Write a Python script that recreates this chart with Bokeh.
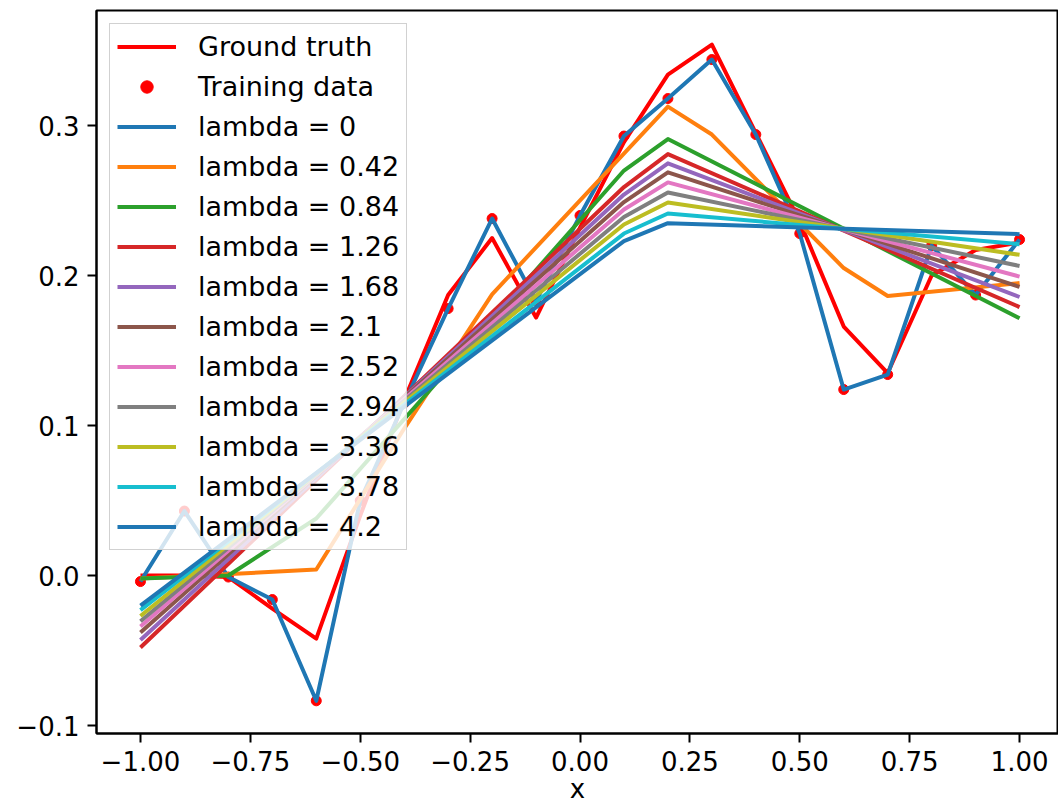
from bokeh.plotting import figure
from bokeh.models import Range1d, Legend, LegendItem, FixedTicker
from bokeh.embed import file_html
from bokeh.resources import INLINE

# sample positions shared by the ground truth and the training set
x_grid = [-1.0, -0.9, -0.8, -0.7, -0.6, -0.5, -0.4, -0.3, -0.2, -0.1, 0.0,
          0.1, 0.2, 0.3, 0.4, 0.5, 0.6, 0.7, 0.8, 0.9, 1.0]

ground_truth = [0.0, 0.0, -0.001, -0.022, -0.042, 0.040, 0.117, 0.187, 0.225, 0.172, 0.232,
                0.289, 0.334, 0.354, 0.295, 0.236, 0.166, 0.135, 0.200, 0.217, 0.222]

training = [-0.004, 0.043, -0.001, -0.016, -0.0835, 0.050, 0.115, 0.178, 0.238, 0.183, 0.240,
            0.293, 0.318, 0.344, 0.294, 0.228, 0.124, 0.134, 0.220, 0.187, 0.224]

# regularised fits: vertices of each fitted polyline
fit_0_42_x = [-1.0, -0.6, -0.4, -0.2, 0.2, 0.3, 0.6, 0.7, 1.0]
fit_0_42_y = [-0.002, 0.004, 0.098, 0.1875, 0.3126, 0.294, 0.205, 0.1864, 0.195]

fit_0_84_x = [-1.0, -0.8, -0.6, 0.1, 0.2, 1.0]
fit_0_84_y = [-0.002, 0.0, 0.038, 0.270, 0.291, 0.1715]

fit_knots_x = [-1.0, 0.1, 0.2, 1.0]
fit_1_26_y = [-0.048, 0.259, 0.281, 0.179]
fit_1_68_y = [-0.043, 0.254, 0.2748, 0.1857]
fit_2_1_y = [-0.038, 0.249, 0.2688, 0.1924]
fit_2_52_y = [-0.034, 0.244, 0.2621, 0.1993]
fit_2_94_y = [-0.0305, 0.239, 0.2554, 0.2064]
fit_3_36_y = [-0.027, 0.234, 0.2487, 0.2138]
fit_3_78_y = [-0.023, 0.228, 0.2414, 0.2209]
fit_4_2_y = [-0.020, 0.223, 0.2349, 0.2276]

lambda_labels = ["0", "0.42", "0.84", "1.26", "1.68", "2.1", "2.52", "2.94", "3.36", "3.78", "4.2"]
fits = [
    (x_grid, training),
    (fit_0_42_x, fit_0_42_y),
    (fit_0_84_x, fit_0_84_y),
    (fit_knots_x, fit_1_26_y),
    (fit_knots_x, fit_1_68_y),
    (fit_knots_x, fit_2_1_y),
    (fit_knots_x, fit_2_52_y),
    (fit_knots_x, fit_2_94_y),
    (fit_knots_x, fit_3_36_y),
    (fit_knots_x, fit_3_78_y),
    (fit_knots_x, fit_4_2_y),
]
palette = ["#1f77b4", "#ff7f0e", "#2ca02c", "#d62728", "#9467bd", "#8c564b",
           "#e377c2", "#7f7f7f", "#bcbd22", "#17becf", "#1f77b4"]

x_ticks = [-1.0, -0.75, -0.5, -0.25, 0.0, 0.25, 0.5, 0.75, 1.0]
x_tick_labels = ["\u22121.00", "\u22120.75", "\u22120.50", "\u22120.25", "0.00", "0.25", "0.50", "0.75", "1.00"]
y_ticks = [-0.1, 0.0, 0.1, 0.2, 0.3]
y_tick_labels = ["\u22120.1", "0.0", "0.1", "0.2", "0.3"]

FONT = "DejaVu Sans"
FS = "26px"
LW = 4
Y_LO, Y_HI = -0.1053, 0.3767

p = figure(width=1058, height=811, output_backend="svg", toolbar_location=None,
           x_range=Range1d(-1.1, 1.0886), y_range=Range1d(Y_LO, Y_HI),
           min_border_left=96, min_border_right=0, min_border_top=10, min_border_bottom=78)
p.xgrid.visible = False
p.ygrid.visible = False
p.outline_line_color = "black"
p.outline_line_width = 2
p.outline_line_alpha = 1.0

for ax, ticks, labels in ((p.xaxis[0], x_ticks, x_tick_labels), (p.yaxis[0], y_ticks, y_tick_labels)):
    ax.ticker = FixedTicker(ticks=ticks)
    ax.major_label_overrides = dict(zip(ticks, labels))
    ax.minor_tick_line_color = None
    ax.major_tick_in = 0
    ax.major_tick_out = 9
    ax.major_tick_line_width = 2
    ax.major_tick_line_color = "black"
    ax.axis_line_color = "black"
    ax.axis_line_width = 2
    ax.major_label_text_font = FONT
    ax.major_label_text_font_size = FS
    ax.major_label_text_color = "black"
    ax.major_label_standoff = 8

p.xaxis.axis_label = "x"
p.xaxis.axis_label_text_font = FONT
p.xaxis.axis_label_text_font_size = FS
p.xaxis.axis_label_text_font_style = "normal"
p.xaxis.axis_label_text_color = "black"
p.xaxis.axis_label_text_baseline = "middle"
p.xaxis.axis_label_standoff = 0

gt_r = p.line(x_grid, ground_truth, line_color="red", line_width=LW, line_join="round")
dots_r = p.scatter(x_grid, training, size=10, fill_color="red", line_color="red")

items = [LegendItem(label="Ground truth", renderers=[gt_r]),
         LegendItem(label="Training data", renderers=[dots_r])]
for (fx, fy), lab, col in zip(fits, lambda_labels, palette):
    r = p.line(fx, fy, line_color=col, line_width=LW, line_join="round")
    items.append(LegendItem(label="lambda = " + lab, renderers=[r]))

legend = Legend(items=items, location="top_left", margin=13, padding=7, spacing=9,
                glyph_height=31, glyph_width=59, label_height=31, label_standoff=22,
                label_text_font=FONT, label_text_font_size="27px", label_text_color="black",
                background_fill_color="white", background_fill_alpha=0.8,
                border_line_color="#cccccc", border_line_width=1.5, border_line_alpha=0.9)
p.add_layout(legend)

open("out.html", "w").write(file_html(p, INLINE))
